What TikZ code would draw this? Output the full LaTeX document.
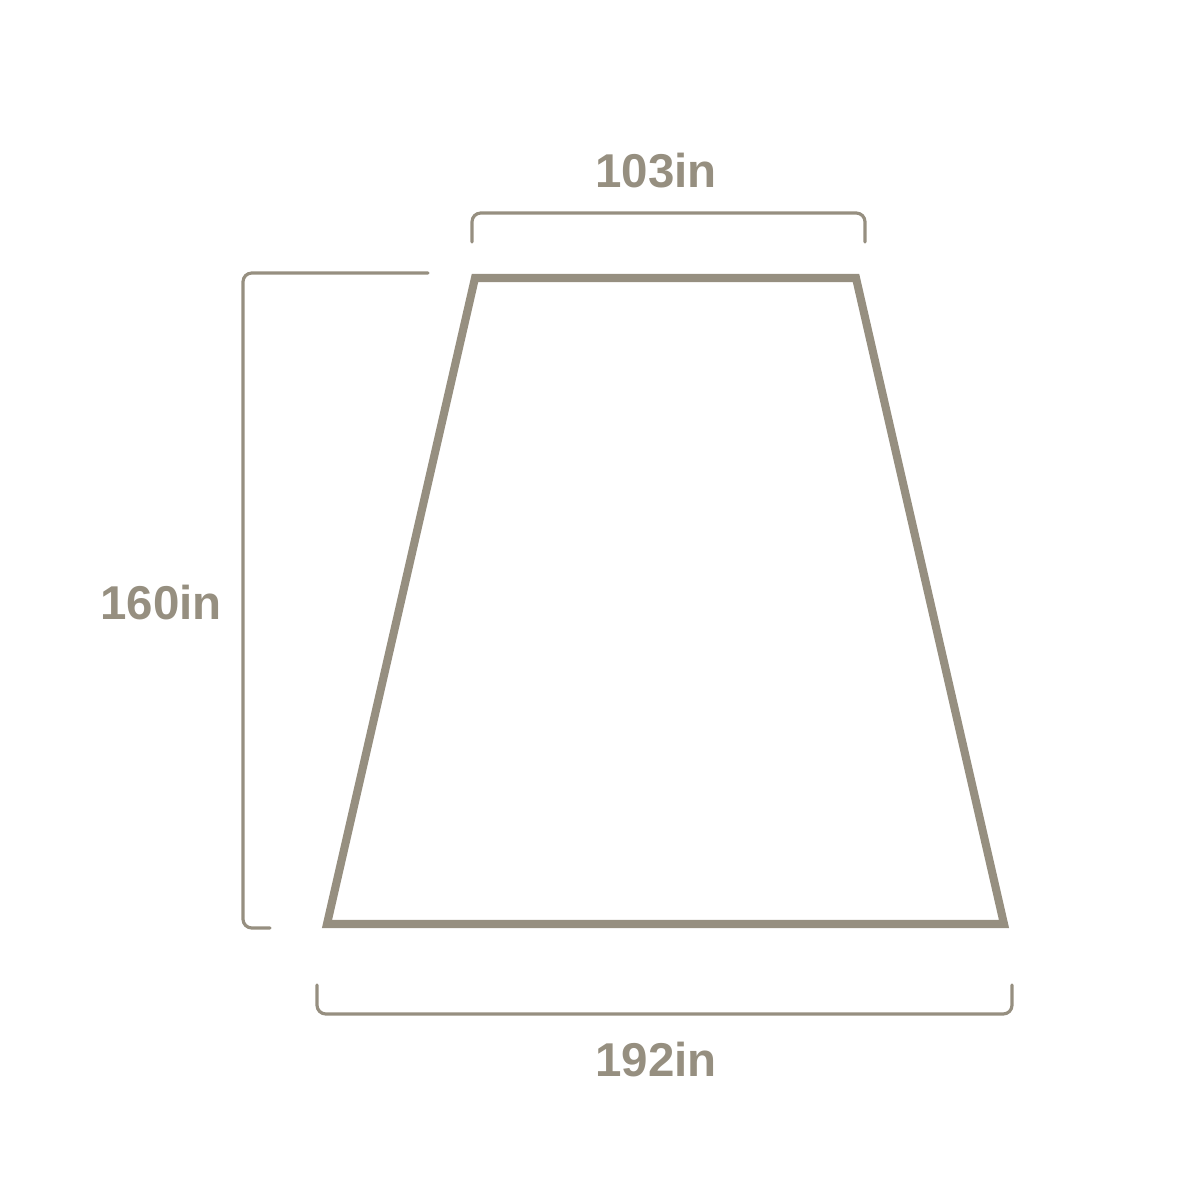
\documentclass[tikz,border=0pt]{standalone}
\usepackage{fontspec}
\setmainfont{Liberation Sans}
\definecolor{khaki}{RGB}{150,143,128}
\begin{document}
\begin{tikzpicture}[x=0.01cm,y=-0.01cm,
  shape line/.style={draw=khaki,line width=2.3pt,line join=miter},
  bracket/.style={draw=khaki,line width=0.9pt,rounded corners=2.5pt,line cap=round},
  dimlabel/.style={text=khaki,font=\fontsize{13.5}{16}\selectfont\bfseries,inner sep=0pt}]
\useasboundingbox (0,0) rectangle (1200,1200);
% trapezoid
\coordinate (tl) at (475,278);
\coordinate (tr) at (856,278);
\coordinate (br) at (1004,924);
\coordinate (bl) at (327,924);
\draw[shape line] (tl) -- (tr) -- (br) -- (bl) -- cycle;
% top bracket
\coordinate (t1) at (472,242);
\coordinate (t2) at (865,242);
\draw[bracket] (t1) |- (668,213) -| (t2);
\node[dimlabel] (top) at (656,171) {103in};
% left bracket
\coordinate (l1) at (428,273);
\coordinate (l2) at (270,928);
\draw[bracket] (l1) -| (243,600) |- (l2);
\node[dimlabel] (left) at (161,603) {160in};
% bottom bracket
\coordinate (b1) at (317,985);
\coordinate (b2) at (1012,985);
\draw[bracket] (b1) |- (664,1014) -| (b2);
\node[dimlabel] (bottom) at (656,1060) {192in};
\end{tikzpicture}
\end{document}
